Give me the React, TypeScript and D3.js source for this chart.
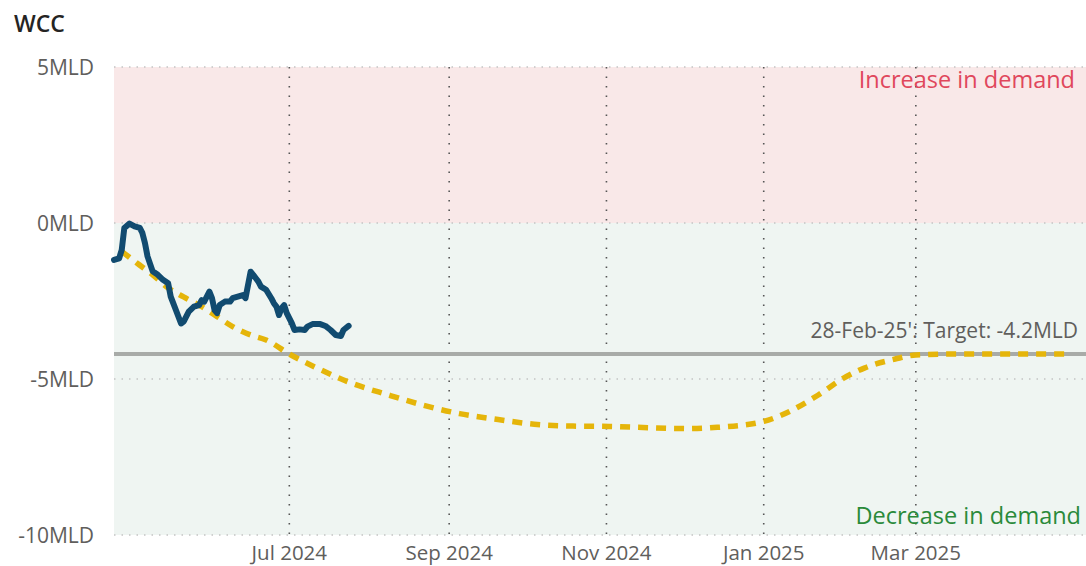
import { useEffect, useRef } from 'react';
import * as d3 from 'd3';

const title = 'WCC';
const yTicks = [5, 0, -5, -10];
const xTicks = ['2024-07-01', '2024-09-01', '2024-11-01', '2025-01-01', '2025-03-01'];
const xDomain = ['2024-04-24', '2025-05-06'];

const actualDates = [
  '2024-04-24', '2024-04-26', '2024-04-27', '2024-04-28', '2024-04-30', '2024-05-02',
  '2024-05-04', '2024-05-05', '2024-05-06', '2024-05-07', '2024-05-09', '2024-05-11',
  '2024-05-13', '2024-05-15', '2024-05-16', '2024-05-18', '2024-05-20', '2024-05-21',
  '2024-05-23', '2024-05-25', '2024-05-27', '2024-05-28', '2024-05-29', '2024-05-31',
  '2024-06-01', '2024-06-02', '2024-06-03', '2024-06-04', '2024-06-06', '2024-06-08',
  '2024-06-09', '2024-06-11', '2024-06-13', '2024-06-14', '2024-06-16', '2024-06-17',
  '2024-06-18', '2024-06-19', '2024-06-20', '2024-06-22', '2024-06-24', '2024-06-25',
  '2024-06-26', '2024-06-27', '2024-06-28', '2024-06-29', '2024-06-30', '2024-07-02',
  '2024-07-03', '2024-07-05', '2024-07-07', '2024-07-08', '2024-07-10', '2024-07-13',
  '2024-07-15', '2024-07-17', '2024-07-19', '2024-07-21', '2024-07-22', '2024-07-24',
];
const actualValues = [
  -1.18, -1.13, -0.86, -0.16, -0.02, -0.11,
  -0.16, -0.32, -0.64, -1.07, -1.55, -1.66,
  -1.82, -1.93, -2.36, -2.79, -3.22, -3.16,
  -2.84, -2.68, -2.63, -2.47, -2.52, -2.2,
  -2.41, -2.79, -2.89, -2.63, -2.52, -2.52,
  -2.41, -2.36, -2.31, -2.41, -1.56, -1.66,
  -1.77, -1.88, -2.04, -2.14, -2.41, -2.57,
  -2.68, -2.95, -2.73, -2.63, -2.89, -3.22,
  -3.43, -3.41, -3.43, -3.32, -3.24, -3.24,
  -3.3, -3.43, -3.59, -3.62, -3.43, -3.3,
];

const forecastDates = [
  '2024-04-27', '2024-05-03', '2024-05-09', '2024-05-15', '2024-05-21', '2024-05-28',
  '2024-06-03', '2024-06-09', '2024-06-16', '2024-06-22', '2024-07-01', '2024-07-12',
  '2024-07-25', '2024-08-08', '2024-08-22', '2024-09-05', '2024-09-20', '2024-10-04',
  '2024-10-19', '2024-11-02', '2024-11-17', '2024-12-02', '2024-12-14', '2025-01-01',
  '2025-01-11', '2025-01-22', '2025-02-01', '2025-02-09', '2025-02-21', '2025-03-01',
  '2025-03-14', '2025-04-02', '2025-04-28',
];
const forecastValues = [
  -0.91, -1.29, -1.66, -2.08, -2.37, -2.68,
  -3.0, -3.32, -3.59, -3.75, -4.2, -4.66,
  -5.13, -5.5, -5.84, -6.11, -6.3, -6.45,
  -6.51, -6.52, -6.56, -6.59, -6.55, -6.36,
  -6.04, -5.52, -4.97, -4.65, -4.36, -4.23,
  -4.2, -4.2, -4.2,
];

const target = -4.2;
const targetLabel = "28-Feb-25': Target: -4.2MLD";
const upperLabel = 'Increase in demand';
const lowerLabel = 'Decrease in demand';

const W = 1086;
const H = 566;
const FONT = '"Open Sans", "Noto Sans", sans-serif';

export default function App() {
  const svgRef = useRef<SVGSVGElement | null>(null);

  useEffect(() => {
    if (!svgRef.current) return;
    const svg = d3.select(svgRef.current);
    svg.selectAll('*').remove();

    const margin = { top: 67, right: 0, bottom: 31, left: 114 };
    const parse = d3.timeParse('%Y-%m-%d');

    const x = d3
      .scaleTime()
      .domain(xDomain.map((d) => parse(d) as Date))
      .range([margin.left, W - margin.right]);
    const y = d3.scaleLinear().domain([-10, 5]).range([H - margin.bottom, margin.top]);

    // Background bands
    svg.append('rect')
      .attr('x', x.range()[0])
      .attr('y', y(5))
      .attr('width', x.range()[1] - x.range()[0])
      .attr('height', y(0) - y(5))
      .attr('fill', '#f9e8e8');
    svg.append('rect')
      .attr('x', x.range()[0])
      .attr('y', y(0))
      .attr('width', x.range()[1] - x.range()[0])
      .attr('height', y(-10) - y(0))
      .attr('fill', '#eff5f2');

    // Horizontal gridlines
    svg.append('g')
      .selectAll('line')
      .data(yTicks)
      .enter()
      .append('line')
      .attr('x1', x.range()[0])
      .attr('x2', x.range()[1])
      .attr('y1', (d) => y(d))
      .attr('y2', (d) => y(d))
      .attr('stroke', '#c4c4c4')
      .attr('stroke-width', 1.5)
      .attr('stroke-dasharray', '1.5,6');

    // Vertical gridlines
    const xt = xTicks.map((d) => parse(d) as Date);
    svg.append('g')
      .selectAll('line')
      .data(xt)
      .enter()
      .append('line')
      .attr('x1', (d) => x(d))
      .attr('x2', (d) => x(d))
      .attr('y1', y(5))
      .attr('y2', y(-10))
      .attr('stroke', '#555')
      .attr('stroke-width', 1.6)
      .attr('stroke-dasharray', '1.6,7.9');

    // Y labels
    svg.append('g')
      .selectAll('text')
      .data(yTicks)
      .enter()
      .append('text')
      .attr('x', 94)
      .attr('y', (d) => y(d))
      .attr('dy', '0.36em')
      .attr('text-anchor', 'end')
      .style('font-family', FONT)
      .style('font-size', '21px')
      .style('fill', '#605e5c')
      .text((d) => `${d}MLD`);

    // X labels
    svg.append('g')
      .selectAll('text')
      .data(xt)
      .enter()
      .append('text')
      .attr('x', (d) => x(d))
      .attr('y', 560)
      .attr('text-anchor', 'middle')
      .style('font-family', FONT)
      .style('font-size', '20.5px')
      .style('fill', '#605e5c')
      .text((d) => d3.timeFormat('%b %Y')(d));

    // Target line
    svg.append('line')
      .attr('x1', x.range()[0])
      .attr('x2', x.range()[1])
      .attr('y1', y(target))
      .attr('y2', y(target))
      .attr('stroke', '#a8aba8')
      .attr('stroke-width', 4);

    svg.append('text')
      .attr('x', 1078)
      .attr('y', 338)
      .attr('text-anchor', 'end')
      .style('font-family', FONT)
      .style('font-size', '21px')
      .style('fill', '#605e5c')
      .text(targetLabel);

    // Forecast (dashed)
    const forecast = forecastDates.map((d, i) => ({ date: parse(d) as Date, v: forecastValues[i] }));
    const line = d3
      .line<{ date: Date; v: number }>()
      .x((d) => x(d.date))
      .y((d) => y(d.v))
      .curve(d3.curveMonotoneX);

    svg.append('path')
      .datum(forecast)
      .attr('fill', 'none')
      .attr('stroke', '#e5b50a')
      .attr('stroke-width', 5.5)
      .attr('stroke-dasharray', '10,8')
      .attr('d', line);

    // Actual
    const actual = actualDates.map((d, i) => ({ date: parse(d) as Date, v: actualValues[i] }));
    svg.append('path')
      .datum(actual)
      .attr('fill', 'none')
      .attr('stroke', '#114b70')
      .attr('stroke-width', 6)
      .attr('stroke-linejoin', 'round')
      .attr('stroke-linecap', 'round')
      .attr('d', line.curve(d3.curveLinear));

    // Band labels
    svg.append('text')
      .attr('x', 1075)
      .attr('y', 88)
      .attr('text-anchor', 'end')
      .style('font-family', FONT)
      .style('font-size', '23.5px')
      .style('fill', '#e0475c')
      .text(upperLabel);
    svg.append('text')
      .attr('x', 1081)
      .attr('y', 524)
      .attr('text-anchor', 'end')
      .style('font-family', FONT)
      .style('font-size', '23.5px')
      .style('fill', '#2a8a3a')
      .text(lowerLabel);

    // Title
    svg.append('text')
      .attr('x', 14)
      .attr('y', 32)
      .style('font-family', FONT)
      .style('font-size', '23px')
      .style('font-weight', 600)
      .style('fill', '#252423')
      .text(title);
  }, []);

  return (
    <div style={{ position: 'absolute', left: 0, top: 0 }}>
      <svg ref={svgRef} width={W} height={H} style={{ display: 'block', background: '#fff' }} />
    </div>
  );
}
